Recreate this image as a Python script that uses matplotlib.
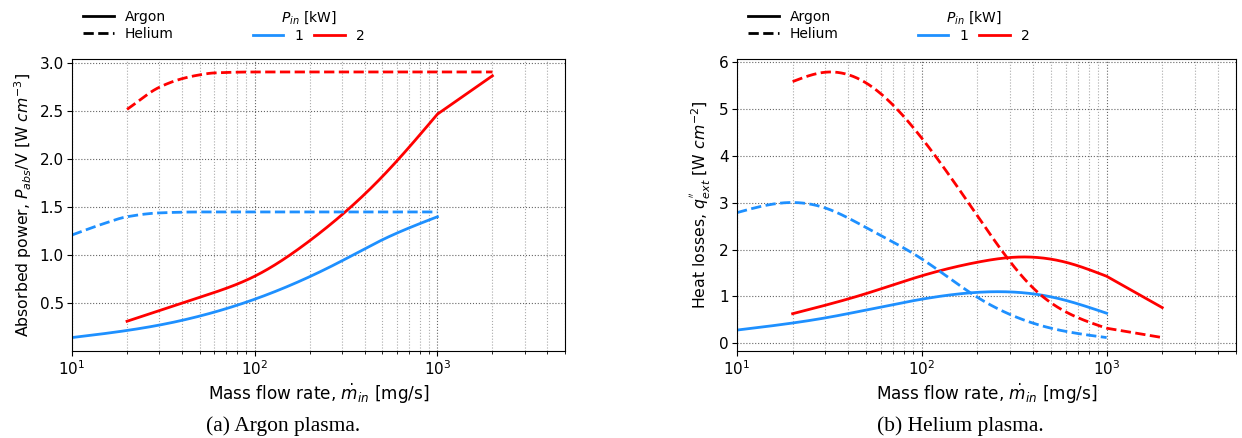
import numpy as np
import matplotlib
matplotlib.use("Agg")
import matplotlib.pyplot as plt
from matplotlib.lines import Line2D

# Argon plasma: absorbed power per volume [W cm^-3]
ar_mdot_1 = [10, 30, 100, 300, 500, 1000]
ar_pabs_ar_1 = [0.14, 0.27, 0.54, 0.94, 1.16, 1.40]
ar_mdot_2 = [20, 50, 100, 200, 500, 1000, 2000]
ar_pabs_ar_2 = [0.31, 0.56, 0.78, 1.15, 1.82, 2.47, 2.87]
he_mdot_1 = [10, 15, 20, 30, 50, 100, 1000]
ar_pabs_he_1 = [1.21, 1.33, 1.40, 1.44, 1.45, 1.45, 1.45]
he_mdot_2 = [20, 30, 40, 50, 60, 100, 2000]
ar_pabs_he_2 = [2.52, 2.75, 2.84, 2.88, 2.90, 2.91, 2.91]

# Helium plasma: heat losses [W cm^-2]
hl_mdot_ar_1 = [10, 30, 100, 250, 500, 1000]
hl_ar_1 = [0.28, 0.54, 0.94, 1.10, 0.99, 0.64]
hl_mdot_ar_2 = [20, 50, 100, 200, 330, 600, 1000, 2000]
hl_ar_2 = [0.63, 1.06, 1.44, 1.73, 1.84, 1.73, 1.43, 0.76]
hl_mdot_he_1 = [10, 18, 30, 50, 100, 200, 500, 1000]
hl_he_1 = [2.79, 3.00, 2.89, 2.47, 1.80, 0.98, 0.32, 0.12]
hl_mdot_he_2 = [20, 30, 50, 100, 200, 400, 1000, 2000]
hl_he_2 = [5.59, 5.79, 5.56, 4.38, 2.72, 1.18, 0.32, 0.12]

blue = "#1e90ff"
red = "#ff0000"
lw = 2.0


def spline(x, y, n=400):
    # natural cubic spline in log10(x) up to 1000, straight segment beyond
    lx = np.log10(np.asarray(x, float))
    y = np.asarray(y, float)
    tail = None
    if lx[-1] > 3.01:
        tail = (lx[-2:], y[-2:])
        lx, y = lx[:-1], y[:-1]
    k = len(lx)
    h = np.diff(lx)
    A = np.zeros((k, k))
    b = np.zeros(k)
    A[0, 0] = A[-1, -1] = 1
    for i in range(1, k - 1):
        A[i, i - 1] = h[i - 1]
        A[i, i] = 2 * (h[i - 1] + h[i])
        A[i, i + 1] = h[i]
        b[i] = 6 * ((y[i + 1] - y[i]) / h[i] - (y[i] - y[i - 1]) / h[i - 1])
    M = np.linalg.solve(A, b)
    xs = np.linspace(lx[0], lx[-1], n)
    idx = np.clip(np.searchsorted(lx, xs) - 1, 0, k - 2)
    a = lx[idx + 1] - xs
    c = xs - lx[idx]
    hh = h[idx]
    ys = (M[idx] * a**3 + M[idx + 1] * c**3) / (6 * hh) \
        + (y[idx] / hh - M[idx] * hh / 6) * a + (y[idx + 1] / hh - M[idx + 1] * hh / 6) * c
    if tail is not None:
        xs = np.append(xs, tail[0][1])
        ys = np.append(ys, tail[1][1])
    return 10**xs, ys


def pchip(x, y, n=400):
    # monotone cubic for the flat curves
    lx = np.log10(np.asarray(x, float))
    y = np.asarray(y, float)
    h = np.diff(lx)
    d = np.diff(y) / h
    m = np.zeros_like(y)
    for i in range(1, len(y) - 1):
        if d[i - 1] * d[i] > 0:
            w1 = 2 * h[i] + h[i - 1]
            w2 = h[i] + 2 * h[i - 1]
            m[i] = (w1 + w2) / (w1 / d[i - 1] + w2 / d[i])
    m[0], m[-1] = d[0], d[-1]
    xs = np.linspace(lx[0], lx[-1], n)
    idx = np.clip(np.searchsorted(lx, xs) - 1, 0, len(h) - 1)
    t = (xs - lx[idx]) / h[idx]
    ys = (2 * t**3 - 3 * t**2 + 1) * y[idx] + (t**3 - 2 * t**2 + t) * h[idx] * m[idx] \
        + (-2 * t**3 + 3 * t**2) * y[idx + 1] + (t**3 - t**2) * h[idx] * m[idx + 1]
    return 10**xs, ys


fig = plt.figure(figsize=(12.42, 4.38), dpi=100)
ax1 = fig.add_axes([0.058, 0.199, 0.397, 0.667])
ax2 = fig.add_axes([0.5934, 0.199, 0.4016, 0.667])

for ax, curves in [
    (ax1, [(ar_mdot_1, ar_pabs_ar_1, blue, "-", spline), (ar_mdot_2, ar_pabs_ar_2, red, "-", spline),
           (he_mdot_1, ar_pabs_he_1, blue, "--", pchip), (he_mdot_2, ar_pabs_he_2, red, "--", pchip)]),
    (ax2, [(hl_mdot_ar_1, hl_ar_1, blue, "-", spline), (hl_mdot_ar_2, hl_ar_2, red, "-", spline),
           (hl_mdot_he_1, hl_he_1, blue, "--", spline), (hl_mdot_he_2, hl_he_2, red, "--", spline)]),
]:
    for x, y, c, ls, f in curves:
        xs, ys = f(x, y)
        ax.plot(xs, ys, color=c, ls=ls, lw=lw)
    ax.set_xscale("log")
    ax.set_xlim(10, 5000)
    ax.grid(which="major", ls=":", color="#666666", lw=0.8)
    ax.grid(which="minor", axis="x", ls=":", color="#aaaaaa", lw=0.8)
    ax.set_xlabel(r"Mass flow rate, $\dot{m}_{in}$ [mg/s]", fontsize=12.2, labelpad=3)
    ax.tick_params(labelsize=11, pad=2.5)

ax1.set_yticks([0.5, 1.0, 1.5, 2.0, 2.5, 3.0])
ax1.set_ylabel(r"Absorbed power, $P_{abs}$/V [W $cm^{-3}$]", fontsize=11.3)
ax2.set_yticks([0, 1, 2, 3, 4, 5, 6])
ax2.set_ylabel(r"Heat losses, $q_{ext}^{''}$ [W $cm^{-2}$]", fontsize=11.3)

for ax, x0 in [(ax1, 0.058), (ax2, 0.5934)]:
    h_gas = [Line2D([], [], color="k", ls="-", lw=lw), Line2D([], [], color="k", ls="--", lw=lw)]
    fig.legend(h_gas, ["Argon", "Helium"], loc="upper left", bbox_to_anchor=(x0 - 0.001, 1.006),
               frameon=False, fontsize=10, handlelength=2.2, labelspacing=0.25)
    h_p = [Line2D([], [], color=blue, lw=lw), Line2D([], [], color=red, lw=lw)]
    fig.legend(h_p, ["1", "2"], title=r"$P_{in}$ [kW]", loc="upper left",
               bbox_to_anchor=(x0 + 0.1355, 1.008), frameon=False, fontsize=10, title_fontsize=10,
               ncol=2, handlelength=2.2, columnspacing=0.8, labelspacing=0.25)

fig.text(0.228, 0.017, "(a) Argon plasma.", ha="center", fontsize=15.5, family="Liberation Serif")
fig.text(0.773, 0.017, "(b) Helium plasma.", ha="center", fontsize=15.5, family="Liberation Serif")

fig.savefig("out.png", dpi=100)
